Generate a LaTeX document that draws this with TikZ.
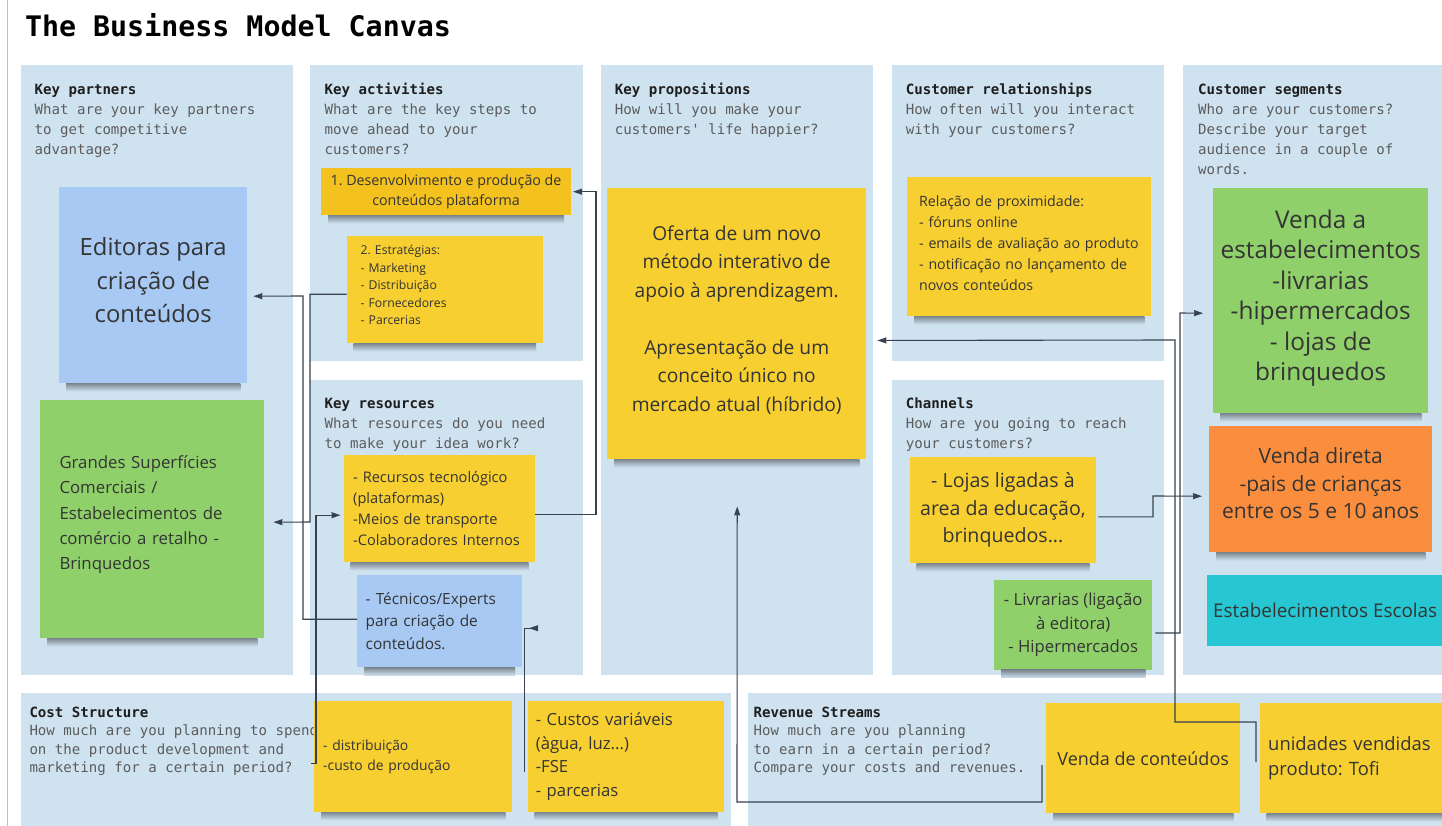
\documentclass[tikz,border=0pt]{standalone}
\usepackage{fontspec}
\setmainfont{Open Sans}
\newfontfamily\mono{DejaVu Sans Mono}
\usetikzlibrary{calc,arrows.meta}
\definecolor{panel}{RGB}{207,226,240}
\definecolor{yel}{RGB}{247,207,48}
\definecolor{yelB}{RGB}{244,194,30}
\definecolor{blu}{RGB}{167,201,243}
\definecolor{grn}{RGB}{143,208,106}
\definecolor{org}{RGB}{250,142,62}
\definecolor{cya}{RGB}{38,198,210}
\definecolor{notetxt}{RGB}{52,52,52}
\definecolor{lbl}{RGB}{30,30,30}
\definecolor{qtxt}{RGB}{92,92,92}
\definecolor{conncol}{RGB}{55,65,80}
\tikzset{
  panelbox/.style={fill=panel, draw=none},
  sticky/.style={draw=none, inner sep=0pt, anchor=north west, text=notetxt},
  plabel/.style={anchor=north west, align=left, inner sep=0pt, text=qtxt, font=\mono\fontsize{14.1}{20}\selectfont},
  plabelb/.style={plabel, font=\mono\fontsize{14.1}{18.5}\selectfont},
  conn/.style={draw=conncol, line width=1.1pt, -{Stealth[length=9pt,width=6pt,inset=0.5pt]}},
  leftrule/.style={draw=black!25, line width=0.8pt},
}
\newcommand{\stkshadow}[1]{\shade[top color=black!40!panel, bottom color=panel] ($(#1.south west)+(7,0)$) rectangle ($(#1.south east)+(-7,8)$);}
\begin{document}
\frenchspacing
\begin{tikzpicture}[x=1pt,y=-1pt]
\useasboundingbox (0,0) rectangle (1442,826);
\clip (0,0) rectangle (1442,826);
\fill[white] (0,0) rectangle (1442,826);
\draw[leftrule] (7,0) -- (7,826);

% title
\node[anchor=base west, inner sep=0pt, text=black] (title) at (24.8,36.7) {\mono\bfseries\fontsize{28.3}{30}\selectfont The Business Model Canvas};

% panels
\fill[panelbox] (21,65) rectangle (293,675);
\fill[panelbox] (310,65) rectangle (583,361);
\fill[panelbox] (310,380) rectangle (583,675);
\fill[panelbox] (600.7,65) rectangle (873,675);
\fill[panelbox] (892,65) rectangle (1164,361);
\fill[panelbox] (892,380) rectangle (1164,675);
\fill[panelbox] (1183,65) rectangle (1450,675);
\fill[panelbox] (21,693) rectangle (731,830);
\fill[panelbox] (747.6,693) rectangle (1450,830);

% panel labels
\node[plabel] (lkp) at (34.4,80.8) {{\color{lbl}\bfseries Key partners}\strut\\What are your key partners\\to get competitive\\advantage?};
\node[plabel] (lka) at (324.5,80.8) {{\color{lbl}\bfseries Key activities}\strut\\What are the key steps to\\move ahead to your\\customers?};
\node[plabel] (lkprop) at (614.7,80.8) {{\color{lbl}\bfseries Key propositions}\strut\\How will you make your\\customers' life happier?};
\node[plabel] (lcr) at (905.7,80.8) {{\color{lbl}\bfseries Customer relationships}\strut\\How often will you interact\\with your customers?};
\node[plabel] (lcs) at (1198,80.8) {{\color{lbl}\bfseries Customer segments}\strut\\Who are your customers?\\Describe your target\\audience in a couple of\\words.};
\node[plabel] (lkr) at (324.5,394.5) {{\color{lbl}\bfseries Key resources}\strut\\What resources do you need\\to make your idea work?};
\node[plabel] (lch) at (905.7,394.5) {{\color{lbl}\bfseries Channels}\strut\\How are you going to reach\\your customers?};
\node[plabelb] (lcost) at (29.3,704.2) {{\color{lbl}\bfseries Cost Structure}\strut\\How much are you planning to spend\\on the product development and\\marketing for a certain period?};
\node[plabelb] (lrev) at (753.5,704.2) {{\color{lbl}\bfseries Revenue Streams}\strut\\How much are you planning\\to earn in a certain period?\\Compare your costs and revenues.};

% sticky notes
\node[sticky, fill=blu, minimum width=188pt, minimum height=196pt, align=center, text depth=10pt, font=\fontsize{23.8}{33.7}\selectfont] (edit) at (59,187) {Editoras para\\criação de\\conteúdos};
\stkshadow{edit}
\node[sticky, fill=grn, minimum width=224pt, minimum height=238pt, text width=185.4pt, align=left, text depth=113.8pt, font=\fontsize{16.8}{25.2}\selectfont] (grand) at (40,400) {Grandes Superfícies\\Comerciais /\\Estabelecimentos de\\comércio a retalho -\\Brinquedos};
\stkshadow{grand}
\node[sticky, fill=yelB, minimum width=249.7pt, minimum height=47pt, align=center, font=\fontsize{14.25}{20}\selectfont] (desen) at (321,168) {1. Desenvolvimento e produção de\\conteúdos plataforma};
\stkshadow{desen}
\node[sticky, fill=yel, minimum width=196pt, minimum height=107.2pt, text width=168.4pt, align=left, text depth=79.4pt, font=\fontsize{12.2}{17.6}\selectfont] (estr) at (346.7,235.8) {2. Estratégias:\\- Marketing\\- Distribuição\\- Fornecedores\\- Parcerias};
\stkshadow{estr}
\node[sticky, fill=yel, minimum width=191.5pt, minimum height=107pt, text width=172.5pt, align=left, font=\fontsize{14.6}{21.1}\selectfont] (recu) at (343.5,455) {- Recursos tecnológico\\(plataformas)\\-Meios de transporte\\-Colaboradores Internos};
\stkshadow{recu}
\node[sticky, fill=blu, minimum width=164.7pt, minimum height=92pt, text width=147.7pt, align=left, font=\fontsize{15.4}{22.5}\selectfont] (tecn) at (357,575) {- Técnicos/Experts\\para criação de\\conteúdos.};
\stkshadow{tecn}
\node[sticky, fill=yel, minimum width=259pt, minimum height=271.5pt, align=center, text depth=9.8pt, font=\fontsize{19.2}{28.5}\selectfont] (prop) at (607,187.5) {Oferta de um novo\\método interativo de\\apoio à aprendizagem.\\[28.5pt]Apresentação de um\\conceito único no\\mercado atual (híbrido)};
\stkshadow{prop}
\node[sticky, fill=yel, minimum width=244pt, minimum height=139pt, text width=220pt, align=left, text depth=92pt, font=\fontsize{14.2}{21}\selectfont] (crel) at (907,177) {Relação de proximidade:\\- fóruns online\\- emails de avaliação ao produto\\- notificação no lançamento de\\novos conteúdos};
\stkshadow{crel}
\node[sticky, fill=yel, minimum width=186.5pt, minimum height=106pt, align=center, font=\fontsize{19.6}{27.5}\selectfont] (lojas) at (909.5,457) {- Lojas ligadas à\\area da educação,\\brinquedos...};
\stkshadow{lojas}
\node[sticky, fill=grn, minimum width=158pt, minimum height=89.5pt, align=center, font=\fontsize{16.7}{23.3}\selectfont] (livr) at (994,580) {- Livrarias (ligação\\à editora)\\- Hipermercados};
\stkshadow{livr}
\node[sticky, fill=grn, minimum width=215pt, minimum height=225pt, align=center, text depth=10.9pt, font=\fontsize{24.4}{30.4}\selectfont] (vest) at (1213,188) {Venda a\\estabelecimentos\\-livrarias\\-hipermercados\\- lojas de\\brinquedos};
\stkshadow{vest}
\node[sticky, fill=org, minimum width=223pt, minimum height=126pt, align=center, text depth=12pt, font=\fontsize{21}{27.7}\selectfont] (vdir) at (1209,426) {Venda direta\\-pais de crianças\\entre os 5 e 10 anos};
\stkshadow{vdir}
\node[sticky, fill=cya, minimum width=236pt, minimum height=71pt, align=center, font=\fontsize{18.9}{25}\selectfont] (escol) at (1207,575) {Estabelecimentos Escolas};
\node[sticky, fill=yel, minimum width=198pt, minimum height=111pt, text width=180pt, align=left, font=\fontsize{13.9}{20}\selectfont] (cost1) at (314,700.7) {- distribuição\\-custo de produção};
\stkshadow{cost1}
\node[sticky, fill=yel, minimum width=196.4pt, minimum height=111pt, text width=180.4pt, align=left, font=\fontsize{16.7}{23.5}\selectfont] (cost2) at (527.6,700.7) {- Custos variáveis\\(àgua, luz...)\\-FSE\\- parcerias};
\stkshadow{cost2}
\node[sticky, fill=yel, minimum width=194pt, minimum height=110pt, align=center, font=\fontsize{18}{25}\selectfont] (vcont) at (1046,703) {Venda de conteúdos};
\stkshadow{vcont}
\node[sticky, fill=yel, minimum width=194pt, minimum height=110pt, text width=177.2pt, align=left, font=\fontsize{18.4}{25}\selectfont] (unid) at (1259.6,703) {unidades vendidas\\produto: Tofi};
\stkshadow{unid}

% connectors
\draw[conn] ($(tecn.west)+(0,-2)$) -| (303,296) -- ($(edit.east)+(6,11)$);
\draw[conn] ($(estr.west)+(0,4.6)$) -| (310,522) -- ($(grand.east)+(9,3)$);
\draw[conn] ($(cost1.west)+(-3,7)$) -- ++(5,0) |- ($(recu.west)+(-3,6.5)$);
\draw[conn] ($(cost2.west)+(-3,16)$) |- ($(tecn.east)+(16,7)$) -- ($(tecn.east)+(7,7)$);
\draw[conn] ($(recu.east)+(0,6)$) -| (596,191.7) -- ($(desen.east)+(2,0)$);
\draw[conn] ($(vcont.west)+(-4,7)$) |- (737,802) -- ($(prop.south)+(0.5,47)$);
\draw[conn] ($(unid.west)+(-3.6,4)$) -- (1256,722) -| (1175,340) -- ($(prop.east)+(11,17)$);
\draw[conn] ($(lojas.east)+(2,6.7)$) -| (1153,496) -- ($(vdir.west)+(-7,7)$);
\draw[conn] ($(livr.east)+(3,8)$) -| (1180,313) -- ($(vest.west)+(-10,12.5)$);
\end{tikzpicture}
\end{document}
